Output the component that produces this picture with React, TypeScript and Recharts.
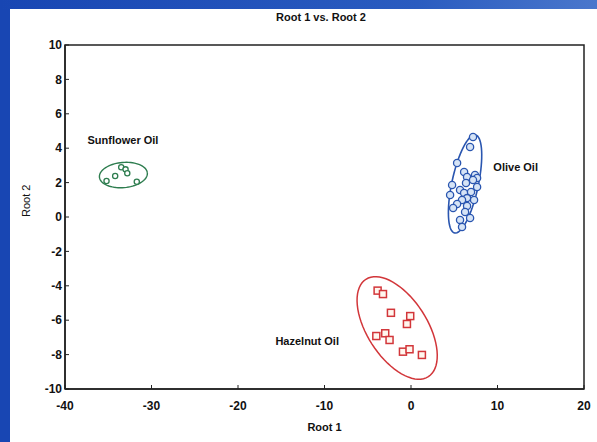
import React from "react";
import {
  ComposedChart,
  Scatter,
  XAxis,
  YAxis,
  ReferenceDot,
  ReferenceArea,
} from "recharts";

// Discriminant scores per group (Root 1, Root 2)
const sunflowerX = [-35.2, -34.2, -33.5, -33.0, -32.8, -31.7];
const sunflowerY = [2.09, 2.38, 2.89, 2.77, 2.54, 2.05];

const oliveX = [
  7.17, 6.83, 5.33, 6.14, 7.4, 7.64, 6.48, 4.75, 6.36, 7.17, 7.64, 5.67, 6.14,
  6.94, 4.52, 6.48, 5.9, 7.29, 5.33, 6.48, 4.87, 6.83, 5.67, 5.9, 6.25,
];
const oliveY = [
  4.65, 4.07, 3.14, 2.62, 2.44, 2.27, 2.33, 1.86, 1.98, 2.15, 1.74, 1.57, 1.4,
  1.45, 1.28, 1.1, 0.99, 0.99, 0.76, 0.64, 0.52, -0.06, -0.17, -0.58, 0.29,
];

const hazelnutX = [-3.86, -3.24, -2.32, -0.09, -0.47, -4.01, -2.98, -2.48, -0.93, -0.17, 1.26];
const hazelnutY = [-4.28, -4.48, -5.57, -5.76, -6.22, -6.92, -6.76, -7.15, -7.83, -7.69, -8.02];

// Confidence ellipses: [centerX, centerY, axis1X, axis1Y, axis2X, axis2Y]
const sunflowerEllipse = [-33.25, 2.44, 2.77, 0.12, 0.12, -0.73];
const oliveEllipse = [6.25, 1.92, 1.21, 2.85, 1.5, -0.16];
const hazelnutEllipse = [-1.6, -6.45, 3.61, -2.83, 2.91, 0.94];

const xTicks = [-40, -30, -20, -10, 0, 10, 20];
const yTicks = [-10, -8, -6, -4, -2, 0, 2, 4, 6, 8, 10];

const groupLabels = ["Sunflower Oil", "Olive Oil", "Hazelnut Oil"];
const labelX = [-33.3, 12.1, -12.0];
const labelY = [4.48, 2.9, -7.2];

const BLUE = "#2a56b0";
const RED = "#d2363a";
const GREEN = "#2e7d4f";
const FONT = "'Liberation Sans', Arial, sans-serif";

const toPoints = (xs: number[], ys: number[]) => xs.map((x, i) => ({ x, y: ys[i] }));

const ellipsePoints = (e: number[]) => {
  const [cx, cy, ax, ay, bx, by] = e;
  const pts = [];
  for (let i = 0; i <= 72; i++) {
    const t = (i / 72) * Math.PI * 2;
    pts.push({
      x: cx + ax * Math.cos(t) + bx * Math.sin(t),
      y: cy + ay * Math.cos(t) + by * Math.sin(t),
    });
  }
  return pts;
};

const noShape = () => <g />;

const circleShape = (stroke: string, fill: string, r: number) => (p: any) =>
  <circle cx={p.cx} cy={p.cy} r={r} stroke={stroke} strokeWidth={1.3} fill={fill} />;

const squareShape = (p: any) => (
  <rect x={p.cx - 3.5} y={p.cy - 3.5} width={7} height={7} stroke={RED} strokeWidth={1.5} fill="#fff6ee" />
);

const tickStyle = { fill: "#111", fontSize: 12, fontWeight: 700, fontFamily: FONT };

export default function App() {
  return (
    <div
      style={{
        position: "fixed",
        left: 0,
        top: 0,
        width: 597,
        height: 442,
        background: "#fff",
        overflow: "hidden",
        fontFamily: FONT,
      }}
    >
      <div style={{ position: "absolute", left: 0, top: 0, width: 10, height: 442, background: "#1846b3" }} />
      <div
        style={{
          position: "absolute",
          left: 0,
          top: 0,
          width: 597,
          height: 9,
          background: "linear-gradient(90deg, #1846b3, #2a5cc0 70%, #4a77cc)",
        }}
      />
      <div
        style={{
          position: "absolute",
          left: 0,
          top: 11,
          width: 642,
          textAlign: "center",
          fontSize: 11,
          fontWeight: 700,
          color: "#111",
        }}
      >
        Root 1 vs. Root 2
      </div>
      <div style={{ position: "absolute", left: 0, top: 0 }}>
        <ComposedChart width={597} height={442} margin={{ top: 45, right: 13, bottom: 0, left: 0 }}>
          <XAxis
            type="number"
            dataKey="x"
            domain={[-40, 20]}
            ticks={xTicks}
            allowDataOverflow
            tick={tickStyle}
            tickSize={-4}
            tickMargin={16}
            axisLine={{ stroke: "#222", strokeWidth: 1.5 }}
            tickLine={{ stroke: "#222" }}
            height={53}
            label={{ value: "Root 1", position: "insideBottom", offset: 11, style: { ...tickStyle, fontSize: 11 } }}
          />
          <YAxis
            type="number"
            dataKey="y"
            domain={[-10, 10]}
            ticks={yTicks}
            allowDataOverflow
            tick={tickStyle}
            tickSize={-4}
            tickMargin={7}
            axisLine={{ stroke: "#222", strokeWidth: 1.5 }}
            tickLine={{ stroke: "#222" }}
            width={65}
            label={{ value: "Root 2", angle: -90, position: "insideLeft", offset: 26, style: { ...tickStyle, fontSize: 11, fontWeight: 400 } }}
          />

          {/* plot frame */}
          <ReferenceArea x1={-40} x2={20} y1={-10} y2={10} fill="none" fillOpacity={0} stroke="#222" strokeWidth={1.5} />

          <Scatter data={ellipsePoints(sunflowerEllipse)} line={{ stroke: GREEN, strokeWidth: 1.4 }} lineType="joint" shape={noShape} isAnimationActive={false} />
          <Scatter data={ellipsePoints(oliveEllipse)} line={{ stroke: BLUE, strokeWidth: 1.6 }} lineType="joint" shape={noShape} isAnimationActive={false} />
          <Scatter data={ellipsePoints(hazelnutEllipse)} line={{ stroke: RED, strokeWidth: 1.5 }} lineType="joint" shape={noShape} isAnimationActive={false} />

          <Scatter data={toPoints(sunflowerX, sunflowerY)} shape={circleShape(GREEN, "#fff", 2.6)} isAnimationActive={false} />
          <Scatter data={toPoints(oliveX, oliveY)} shape={circleShape(BLUE, "#d6e4f6", 3.6)} isAnimationActive={false} />
          <Scatter data={toPoints(hazelnutX, hazelnutY)} shape={squareShape} isAnimationActive={false} />

          {groupLabels.map((name, i) => (
            <ReferenceDot
              key={name}
              x={labelX[i]}
              y={labelY[i]}
              r={0}
              stroke="none"
              label={{ value: name, position: "center", fill: "#111", fontSize: 11, fontWeight: 700, fontFamily: FONT }}
            />
          ))}
        </ComposedChart>
      </div>
    </div>
  );
}
